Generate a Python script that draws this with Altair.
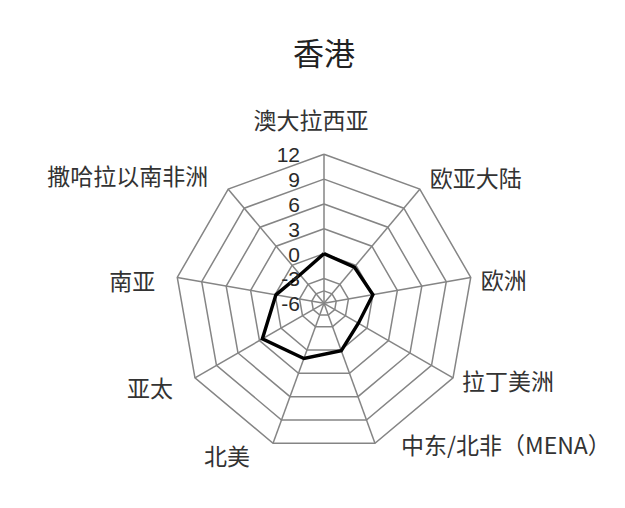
import math
import altair as alt
import pandas as pd

# ---------------- data ----------------
title = "香港"
categories = ["澳大拉西亚", "欧亚大陆", "欧洲", "拉丁美洲", "中东/北非（MENA）",
              "北美", "亚太", "南亚", "撒哈拉以南非洲"]
values = [0.0, -0.3, 0.0, -1.2, 0.1, 1.1, 2.6, -0.1, -1.5]
ring_values = [-4.5, -3, 0, 3, 6, 9, 12]
tick_values = [-6, -3, 0, 3, 6, 9, 12]
tick_labels = ["-6", "-3", "0", "3", "6", "9", "12"]
r_min, r_max = -6, 12

# ---------------- styling (label offsets in px from the outer vertex) ----------------
label_style = {
    "澳大拉西亚": ("center", -13, -32),
    "欧亚大陆": ("left", 10, -9),
    "欧洲": ("left", 10, 5),
    "拉丁美洲": ("left", 9, 5),
    "中东/北非（MENA）": ("left", 26, 4),
    "北美": ("right", -23, 15),
    "亚太": ("right", -22, 12),
    "南亚": ("right", -22, 6),
    "撒哈拉以南非洲": ("right", -20, -11),
}
CJK = "Noto Sans CJK SC"
TEXT_COLOR = "#333333"
GRID_COLOR = "#858585"

W, H = 607, 480
CX, CY, R = 316, 295.3, 149.0  # plot-area centre and radius of outer ring (px)

n = len(categories)


def polar(v, i):
    r = (v - r_min) / (r_max - r_min)
    a = 2 * math.pi * i / n
    return r * math.sin(a), r * math.cos(a)


xs = alt.Scale(domain=[-CX / R, (W - CX) / R], nice=False, zero=False)
ys = alt.Scale(domain=[-(H - CY) / R, CY / R], nice=False, zero=False)


def enc(**kw):
    return dict(x=alt.X("x:Q", scale=xs, axis=None),
                y=alt.Y("y:Q", scale=ys, axis=None), **kw)


# rings
ring_rows = []
for rv in ring_values:
    for k in range(n + 1):
        x, y = polar(rv, k % n)
        ring_rows.append({"ring": str(rv), "o": k, "x": x, "y": y})
rings = alt.Chart(pd.DataFrame(ring_rows)).mark_line(
    color=GRID_COLOR, strokeWidth=1.5
).encode(**enc(detail="ring:N", order="o:Q"))

# spokes
spoke_rows = []
for i in range(n):
    x0, y0 = polar(r_min, i)
    x1, y1 = polar(r_max, i)
    spoke_rows.append({"s": i, "o": 0, "x": x0, "y": y0})
    spoke_rows.append({"s": i, "o": 1, "x": x1, "y": y1})
spokes = alt.Chart(pd.DataFrame(spoke_rows)).mark_line(
    color=GRID_COLOR, strokeWidth=1.5
).encode(**enc(detail="s:N", order="o:Q"))

# data polygon
data_rows = []
for k in range(n + 1):
    i = k % n
    x, y = polar(values[i], i)
    data_rows.append({"o": k, "x": x, "y": y, "cat": categories[i], "v": values[i]})
series = alt.Chart(pd.DataFrame(data_rows)).mark_line(
    color="#000000", strokeWidth=3.4, strokeJoin="miter"
).encode(**enc(order="o:Q"))

# tick labels
tick_rows = []
for tv, tl in zip(tick_values, tick_labels):
    x, y = polar(tv, 0)
    tick_rows.append({"x": x, "y": y, "t": tl})
ticks = alt.Chart(pd.DataFrame(tick_rows)).mark_text(
    align="right", baseline="middle", dx=-24, dy=2,
    font="Liberation Sans", fontSize=21, color="#2a2a2a"
).encode(**enc(text="t:N"))

# category labels
label_layers = []
for i, c in enumerate(categories):
    x, y = polar(r_max, i)
    al, dx, dy = label_style[c]
    label_layers.append(
        alt.Chart(pd.DataFrame([{"x": x, "y": y, "t": c}])).mark_text(
            align=al, baseline="middle", dx=dx, dy=dy,
            font=CJK, fontSize=23, color=TEXT_COLOR
        ).encode(**enc(text="t:N"))
    )

title_mark = alt.Chart(pd.DataFrame({"t": [title]})).mark_text(
    align="center", baseline="middle", font=CJK, fontSize=31, color="#222222"
).encode(x=alt.value(CX), y=alt.value(48), text="t:N")

chart = alt.layer(rings, spokes, series, ticks, *label_layers, title_mark).properties(
    width=W, height=H,
    autosize=alt.AutoSizeParams(type="none"),
    padding=0,
    background="#ffffff",
).configure_view(stroke=None)

chart.save("out.html", embed_options={"renderer": "svg", "actions": False})
